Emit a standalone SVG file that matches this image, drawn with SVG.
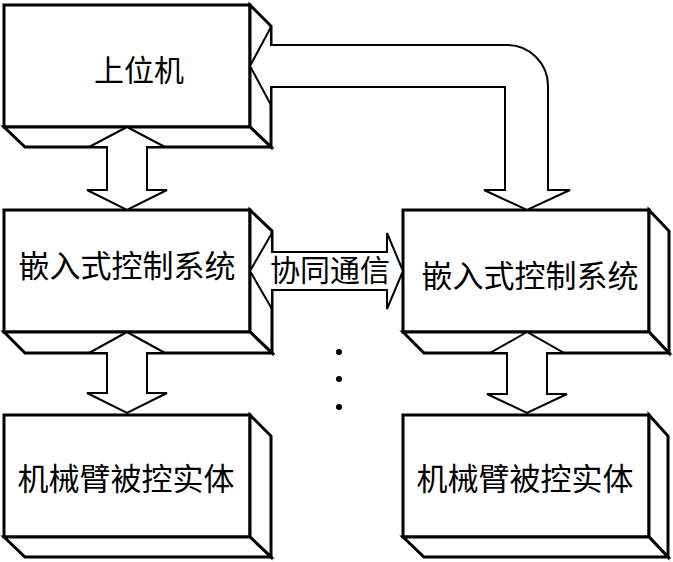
<svg xmlns="http://www.w3.org/2000/svg" width="673" height="562" viewBox="0 0 673 562">
<style>
.box{fill:#fff;stroke:#000;stroke-width:3;stroke-linejoin:miter}
.arr{fill:#fff;stroke:#000;stroke-width:2;stroke-linejoin:miter}
.t{font-family:"Noto Sans CJK SC","Noto Sans",sans-serif;font-size:30px;fill:#000;text-anchor:middle}
</style>
<rect width="673" height="562" fill="#fff"/>
<g id="host">
<rect class="box" x="4" y="5" width="246" height="122"/>
<polygon class="box" points="250,5 271,26 271,147 250,127"/>
<polygon class="box" points="4,127 25,147 271,147 250,127"/>
<text class="t" x="139" y="81">上位机</text>
</g>
<g id="ctrl1">
<rect class="box" x="4" y="210" width="246" height="122"/>
<polygon class="box" points="250,210 272,231 272,353 250,332"/>
<polygon class="box" points="4,332 25,353 272,353 250,332"/>
<text class="t" x="127" y="277" style="font-size:31px">嵌入式控制系统</text>
</g>
<g id="arm1">
<rect class="box" x="4" y="415" width="246" height="122"/>
<polygon class="box" points="250,415 271,436 271,557 250,537"/>
<polygon class="box" points="4,537 25,557 271,557 250,537"/>
<text class="t" x="126" y="490" style="font-size:31px">机械臂被控实体</text>
</g>
<g id="ctrl2">
<rect class="box" x="403" y="210" width="246" height="122"/>
<polygon class="box" points="649,210 669,231 669,353 649,332"/>
<polygon class="box" points="403,332 424,353 669,353 649,332"/>
<text class="t" x="530" y="287" style="font-size:31px">嵌入式控制系统</text>
</g>
<g id="arm2">
<rect class="box" x="403" y="415" width="246" height="122"/>
<polygon class="box" points="649,415 668,436 668,557 649,537"/>
<polygon class="box" points="403,537 424,557 668,557 649,537"/>
<text class="t" x="525" y="490" style="font-size:31px">机械臂被控实体</text>
</g>
<g id="connectors">
<polygon class="arr" points="127,127 89,147 107,147 107,190 87,190 127,210 167,190 147,190 147,147 165,147"/>
<polygon class="arr" points="127,332 89,353 107,353 107,393 87,393 127,413 167,393 147,393 147,353 165,353"/>
<polygon class="arr" points="527,332 490,353 507,353 507,394 487,394 527,413 567,394 547,394 547,353 564,353"/>
<path class="arr" d="M250,66 L271,27 L271,45 L507,45 A41,41 0 0 1 548,86 L548,190 L570,190 L527,210 L484,190 L505,190 L505,87 L271,87 L271,105 Z"/>
<polygon class="arr" points="250,271 272,233 272,252 387,252 387,233 403,271 387,309 387,290 272,290 272,309"/>
<text class="t" x="330" y="281">协同通信</text>
<circle cx="339" cy="352" r="3" fill="#000"/>
<circle cx="339" cy="379" r="3" fill="#000"/>
<circle cx="339" cy="407" r="3" fill="#000"/>
</g>
</svg>
